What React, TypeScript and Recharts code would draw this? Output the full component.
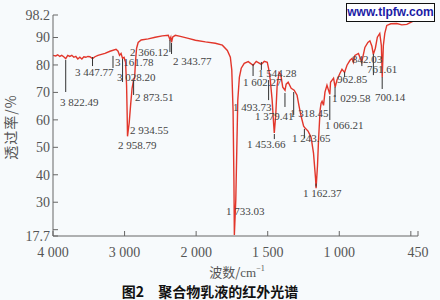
import { LineChart, Line, XAxis, YAxis, ReferenceLine, ReferenceDot } from 'recharts';

// IR spectrum of the polymer emulsion: wavenumber (cm-1) / transmittance (%)
const wavenumbers = [
  4000, 3962, 3934, 3906, 3878, 3850, 3822, 3794, 3765, 3737, 3709, 3681, 3653, 3625, 3597, 3569,
  3541, 3513, 3485, 3448, 3414, 3372, 3274, 3204, 3119, 3091, 3070, 3049, 3028, 3007, 2986, 2972,
  2964, 2959, 2947, 2935, 2916, 2895, 2874, 2860, 2846, 2832, 2810, 2768, 2670, 2572, 2473, 2389,
  2367, 2354, 2344, 2326, 2291, 2221, 2109, 2010, 1935, 1866, 1817, 1782, 1761, 1751, 1742, 1736,
  1733, 1723, 1716, 1709, 1698, 1685, 1664, 1636, 1602, 1580, 1545, 1524, 1503, 1494, 1482, 1469,
  1458, 1454, 1444, 1434, 1420, 1409, 1395, 1379, 1371, 1357, 1336, 1315, 1295, 1281, 1267, 1249,
  1239, 1218, 1197, 1180, 1166, 1162, 1152, 1145, 1134, 1127, 1120, 1110, 1100, 1086, 1066, 1061,
  1040, 1029, 1016, 995, 981, 963, 946, 925, 911, 901, 891, 866, 843, 821, 800, 786,
  772, 762, 748, 734, 717, 706, 700, 692, 682, 668, 640, 598, 563, 528, 494, 450,
];
const transmittance = [
  83.5, 83.3, 83.7, 83.1, 83.5, 83.0, 82.3, 83.5, 83.1, 83.5, 82.8, 83.1, 82.2, 82.8, 82.2, 83.0,
  82.8, 83.1, 83.0, 82.3, 83.0, 83.5, 84.2, 85.0, 85.7, 85.0, 83.5, 84.2, 82.4, 82.8, 81.0, 72.6,
  62.5, 54.0, 56.5, 59.0, 65.3, 71.5, 74.5, 75.2, 81.7, 86.1, 88.2, 89.1, 89.5, 90.1, 90.6, 90.8,
  89.3, 90.1, 88.2, 90.2, 90.8, 90.4, 89.7, 89.0, 88.4, 87.9, 87.2, 85.3, 82.8, 78.2, 63.5, 38.1,
  18.1, 30.8, 49.0, 67.2, 75.5, 78.8, 80.6, 81.2, 79.9, 81.3, 80.2, 81.3, 81.0, 78.8, 74.5, 67.2,
  58.1, 55.2, 61.7, 72.6, 77.3, 76.6, 71.9, 70.8, 73.0, 73.7, 71.5, 70.8, 69.0, 65.0, 61.4, 57.7,
  57.0, 55.9, 53.7, 47.9, 38.8, 35.1, 43.5, 52.6, 63.5, 66.1, 66.8, 65.3, 70.1, 72.6, 69.3, 73.7,
  75.2, 71.9, 74.5, 77.0, 78.4, 77.3, 79.9, 81.7, 82.4, 81.0, 83.5, 84.2, 81.0, 86.4, 88.2, 88.8,
  86.8, 83.9, 86.1, 90.1, 91.5, 87.1, 75.5, 87.1, 91.5, 94.4, 95.0, 95.1, 94.6, 94.8, 95.7, 96.8,
];

const xTickValues = [4000, 3000, 2000, 1500, 1000, 500, 450];
const xTickLabels = ['4 000', '3 000', '2 000', '1 500', '1 000', '', '450'];
const yTickValues = [17.7, 20, 30, 40, 50, 60, 70, 80, 90, 98.2];
const yTickLabels = ['17.7', '', '30', '40', '50', '60', '70', '80', '90', '98.2'];

// labelled peaks
const peaks = [
  3822.49, 3447.77, 3161.78, 3028.2, 2958.79, 2934.55, 2873.51, 2366.12, 2343.77, 1733.03, 1602.27, 1544.28,
  1493.73, 1379.41, 1318.45, 1453.66, 1243.65, 1162.37, 1066.21, 1029.58, 962.85, 842.03, 761.61, 700.14,
];
// marker line from top to bottom (%T), label offset in px from the line bottom
const peakLayout = [
  { top: 81.8, bottom: 70.15, dx: -5.7, dy: 13.5, anchor: 'start' },
  { top: 82.9, bottom: 79.6, dx: -17.5, dy: 9.5, anchor: 'start' },
  { top: 83.3, bottom: 78.9, dx: 2, dy: -1.5, anchor: 'start' },
  { top: 82.2, bottom: 73.8, dx: -5.6, dy: -0.5, anchor: 'start' },
  { top: 53.4, bottom: 53.4, dx: -9.5, dy: 11.5, anchor: 'start' },
  { top: 58.5, bottom: 58.5, dx: 0.7, dy: 10, anchor: 'start' },
  { top: 74.5, bottom: 69.06, dx: 1.4, dy: 6.5, anchor: 'start' },
  { top: 89.1, bottom: 84.7, dx: -1.4, dy: 3.5, anchor: 'end' },
  { top: 88.0, bottom: 84.0, dx: 1.5, dy: 11.5, anchor: 'start' },
  { top: 30.8, bottom: 30.8, dx: -8.4, dy: 15, anchor: 'start' },
  { top: 80.35, bottom: 75.98, dx: -10, dy: 9.5, anchor: 'start' },
  { top: 81.1, bottom: 78.2, dx: -3.4, dy: 7, anchor: 'start' },
  { top: 74.5, bottom: 67.2, dx: -35.6, dy: 11, anchor: 'start' },
  { top: 69.8, bottom: 64.7, dx: -30, dy: 13.5, anchor: 'start' },
  { top: 70.15, bottom: 61.8, dx: -3.7, dy: 2, anchor: 'start' },
  { top: 54.85, bottom: 53.0, dx: -27.3, dy: 8.5, anchor: 'start' },
  { top: 56.7, bottom: 53.4, dx: -12.4, dy: 4.5, anchor: 'start' },
  { top: 36.8, bottom: 35.7, dx: -13, dy: 10.5, anchor: 'start' },
  { top: 68.7, bottom: 59.95, dx: -4.8, dy: 8.5, anchor: 'start' },
  { top: 71.97, bottom: 68.3, dx: -3, dy: 4.5, anchor: 'start' },
  { top: 77.4, bottom: 75.6, dx: -7.6, dy: 5.5, anchor: 'start' },
  { top: 81.1, bottom: 79.6, dx: -9.9, dy: -3.5, anchor: 'start' },
  { top: 84.0, bottom: 76.3, dx: -6.4, dy: -2.5, anchor: 'start' },
  { top: 75.6, bottom: 71.25, dx: -7.2, dy: 12.5, anchor: 'start' },
];

// axis is split at 2000 cm-1: the low-wavenumber part is drawn at twice the scale
const toU = (w: number) => (w >= 2000 ? (4000 - w) / 1000 : 2 + (2000 - w) / 500);

const fmtPeak = (w: number) =>
  w >= 1000 ? `${Math.floor(w / 1000)} ${(w % 1000).toFixed(2).padStart(6, '0')}` : w.toFixed(2);

const data = wavenumbers.map((w, i) => ({ u: toU(w), t: transmittance[i] }));

const serif = '"Liberation Serif", "DejaVu Serif", serif';
const cjk = '"Noto Sans CJK SC", "Noto Sans", sans-serif';

export default function App() {
  return (
    <div style={{ position: 'absolute', left: 0, top: 0, width: 440, height: 300, background: '#f7fafc' }}>
      <LineChart width={440} height={300} data={data} margin={{ top: 15, right: 22, bottom: 0, left: 0 }}>
        <XAxis
          type="number"
          dataKey="u"
          domain={[0, 5.1]}
          ticks={xTickValues.map(toU)}
          interval={0}
          tickFormatter={(v) => {
            const i = xTickValues.findIndex((w) => Math.abs(toU(w) - v) < 1e-6);
            return i >= 0 ? xTickLabels[i] : '';
          }}
          height={64}
          tickSize={-5}
          tickMargin={16}
          stroke="#666"
          tick={{ fill: '#555', fontSize: 14, fontFamily: serif }}
        />
        <YAxis
          type="number"
          domain={[17.7, 98.2]}
          ticks={yTickValues}
          interval={0}
          tickFormatter={(v) => {
            const i = yTickValues.findIndex((t) => Math.abs(t - v) < 1e-6);
            return i >= 0 ? yTickLabels[i] : '';
          }}
          width={53}
          tickSize={-5}
          tickMargin={8}
          stroke="#666"
          tick={{ fill: '#555', fontSize: 14, fontFamily: serif }}
        />
        <Line
          type="linear"
          dataKey="t"
          stroke="#e2362b"
          strokeWidth={1.4}
          dot={false}
          isAnimationActive={false}
        />
        {peaks.map((w, i) =>
          peakLayout[i].top !== peakLayout[i].bottom ? (
            <ReferenceLine
              key={`l-${i}`}
              segment={[
                { x: toU(w), y: peakLayout[i].top },
                { x: toU(w), y: peakLayout[i].bottom },
              ]}
              stroke="#333"
              strokeWidth={1}
            />
          ) : null
        )}
        {peaks.map((w, i) => (
          <ReferenceDot
            key={`t-${i}`}
            x={toU(w)}
            y={peakLayout[i].bottom}
            r={0}
            ifOverflow="visible"
            shape={(p: any) => (
              <text
                x={p.cx + peakLayout[i].dx}
                y={p.cy + peakLayout[i].dy}
                textAnchor={peakLayout[i].anchor}
                fontSize={11}
                fontFamily={serif}
                fill="#444"
              >
                {fmtPeak(w)}
              </text>
            )}
          />
        ))}
      </LineChart>

      <div
        style={{
          position: 'absolute',
          left: 10,
          top: 127,
          transform: 'translate(-50%, -50%) rotate(-90deg)',
          whiteSpace: 'nowrap',
          fontFamily: cjk,
          fontSize: 14,
          letterSpacing: 1,
          color: '#555',
        }}
      >
        透过率/%
      </div>
      <div
        style={{
          position: 'absolute',
          left: 237,
          top: 272,
          transform: 'translate(-50%, -50%)',
          whiteSpace: 'nowrap',
          fontFamily: cjk,
          fontSize: 13,
          lineHeight: '14px',
          color: '#555',
        }}
      >
        波数/<span style={{ fontFamily: serif }}>cm</span>
        <span style={{ fontFamily: serif, fontSize: 8, verticalAlign: 'top', lineHeight: '8px' }}>−1</span>
      </div>
      <div
        style={{
          position: 'absolute',
          left: 210,
          top: 291,
          transform: 'translate(-50%, -50%)',
          whiteSpace: 'nowrap',
          fontFamily: cjk,
          fontWeight: 700,
          fontSize: 14,
          lineHeight: '15px',
          color: '#111',
        }}
      >
        图2　聚合物乳液的红外光谱
      </div>
      <div
        style={{
          position: 'absolute',
          left: 346,
          top: 3,
          width: 87,
          height: 17,
          border: '1.5px solid #111',
          background: '#fff',
          color: '#1c1ca6',
          fontFamily: '"Liberation Sans", Arial, sans-serif',
          fontWeight: 700,
          fontSize: 12,
          lineHeight: '17px',
          textAlign: 'center',
        }}
      >
        www.tlpfw.com
      </div>
    </div>
  );
}
